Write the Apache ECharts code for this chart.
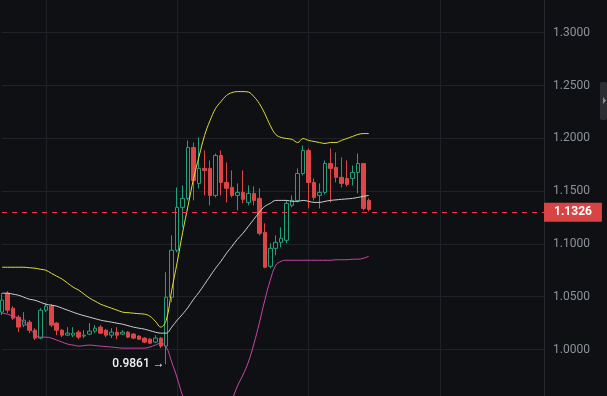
<!DOCTYPE html>
<html>
<head>
<meta charset="utf-8">
<script src="https://cdn.jsdelivr.net/npm/echarts@6/dist/echarts.min.js"></script>
<style>
html,body{margin:0;padding:0;background:#0f1013;}
#chart{width:607px;height:396px;}
</style>
</head>
<body>
<div id="chart"></div>
<script>
// ---- data ----
// category slots (candles occupy the first ones, the rest is empty future space)
const categories = [];
for (let i = 0; i < 100; i++) categories.push(String(i));

// candles: [open, close, low, high]
const candles = [
  [1.0354, 1.0467, 1.0325, 1.0533],
  [1.0533, 1.0372, 1.0344, 1.0552],
  [1.0391, 1.0297, 1.0278, 1.0410],
  [1.0306, 1.0212, 1.0164, 1.0325],
  [1.0231, 1.0278, 1.0212, 1.0354],
  [1.0259, 1.0183, 1.0155, 1.0278],
  [1.0183, 1.0108, 1.0089, 1.0202],
  [1.0108, 1.0372, 1.0098, 1.0391],
  [1.0372, 1.0410, 1.0354, 1.0439],
  [1.0410, 1.0231, 1.0212, 1.0429],
  [1.0250, 1.0183, 1.0136, 1.0259],
  [1.0183, 1.0136, 1.0117, 1.0193],
  [1.0136, 1.0155, 1.0127, 1.0212],
  [1.0136, 1.0155, 1.0117, 1.0212],
  [1.0164, 1.0117, 1.0098, 1.0183],
  [1.0127, 1.0136, 1.0108, 1.0183],
  [1.0146, 1.0174, 1.0136, 1.0250],
  [1.0174, 1.0202, 1.0155, 1.0231],
  [1.0212, 1.0155, 1.0146, 1.0231],
  [1.0183, 1.0136, 1.0117, 1.0193],
  [1.0136, 1.0164, 1.0108, 1.0202],
  [1.0164, 1.0136, 1.0098, 1.0212],
  [1.0146, 1.0164, 1.0136, 1.0183],
  [1.0164, 1.0117, 1.0108, 1.0174],
  [1.0146, 1.0108, 1.0098, 1.0155],
  [1.0127, 1.0098, 1.0089, 1.0136],
  [1.0108, 1.0070, 1.0060, 1.0117],
  [1.0098, 1.0060, 1.0051, 1.0108],
  [1.0070, 1.0108, 1.0060, 1.0136],
  [1.0108, 1.0032, 1.0013, 1.0117],
  [1.0032, 1.0495, 0.9861, 1.0732],
  [1.0495, 1.0940, 1.0448, 1.1081],
  [1.0940, 1.1346, 1.0921, 1.1535],
  [1.1346, 1.1431, 1.1157, 1.1554],
  [1.1431, 1.1913, 1.1412, 1.1979],
  [1.1913, 1.1601, 1.1412, 1.1960],
  [1.1573, 1.1715, 1.1526, 1.2008],
  [1.1715, 1.1696, 1.1459, 1.1885],
  [1.1715, 1.1459, 1.1365, 1.1790],
  [1.1459, 1.1837, 1.1440, 1.1856],
  [1.1837, 1.1582, 1.1459, 1.1885],
  [1.1582, 1.1526, 1.1393, 1.1771],
  [1.1535, 1.1459, 1.1440, 1.1696],
  [1.1459, 1.1488, 1.1318, 1.1573],
  [1.1488, 1.1422, 1.1384, 1.1696],
  [1.1393, 1.1478, 1.1365, 1.1554],
  [1.1478, 1.1412, 1.1365, 1.1544],
  [1.1431, 1.1100, 1.1081, 1.1526],
  [1.1110, 1.0779, 1.0769, 1.1195],
  [1.0788, 1.0958, 1.0769, 1.1006],
  [1.0958, 1.1015, 1.0892, 1.1081],
  [1.1015, 1.1053, 1.0968, 1.1157],
  [1.1034, 1.1384, 1.1006, 1.1412],
  [1.1365, 1.1412, 1.1346, 1.1459],
  [1.1412, 1.1667, 1.1393, 1.1715],
  [1.1667, 1.1885, 1.1648, 1.1932],
  [1.1885, 1.1582, 1.1336, 1.1904],
  [1.1582, 1.1440, 1.1412, 1.1620],
  [1.1459, 1.1488, 1.1336, 1.1573],
  [1.1488, 1.1762, 1.1469, 1.1790],
  [1.1762, 1.1715, 1.1393, 1.1904],
  [1.1724, 1.1630, 1.1582, 1.1866],
  [1.1630, 1.1573, 1.1535, 1.1819],
  [1.1620, 1.1563, 1.1544, 1.1790],
  [1.1620, 1.1677, 1.1554, 1.1743],
  [1.1677, 1.1762, 1.1478, 1.1856],
  [1.1762, 1.1336, 1.1318, 1.1762],
  [1.1412, 1.1326, 1.1308, 1.1431]
];

// Bollinger bands
const upperBand = [
  1.0779, 1.0779, 1.0779, 1.0779, 1.0779, 1.0774, 1.0770, 1.0760, 1.0751, 1.0722,
  1.0694, 1.0666, 1.0628, 1.0590, 1.0562, 1.0524, 1.0486, 1.0458, 1.0429, 1.0410,
  1.0391, 1.0373, 1.0354, 1.0349, 1.0344, 1.0339, 1.0335, 1.0316, 1.0268, 1.0212,
  1.0278, 1.0562, 1.0826, 1.1110, 1.1365, 1.1620, 1.1828, 1.2027, 1.2168, 1.2282,
  1.2348, 1.2405, 1.2433, 1.2442, 1.2442, 1.2438, 1.2395, 1.2329, 1.2234, 1.2121,
  1.2036, 1.2008, 1.1998, 1.1989, 1.1960, 1.1998, 1.1980, 1.1970, 1.1960, 1.1951,
  1.1960, 1.1960, 1.1980, 1.1998, 1.2017, 1.2036, 1.2045, 1.2045
];
const middleBand = [
  1.0533, 1.0533, 1.0524, 1.0514, 1.0495, 1.0476, 1.0467, 1.0448, 1.0429, 1.0420,
  1.0410, 1.0391, 1.0372, 1.0353, 1.0335, 1.0320, 1.0306, 1.0292, 1.0278, 1.0268,
  1.0259, 1.0249, 1.0240, 1.0226, 1.0212, 1.0202, 1.0193, 1.0179, 1.0164, 1.0155,
  1.0155, 1.0212, 1.0278, 1.0335, 1.0401, 1.0476, 1.0543, 1.0618, 1.0694, 1.0769,
  1.0836, 1.0911, 1.0977, 1.1044, 1.1100, 1.1166, 1.1233, 1.1299, 1.1355, 1.1384,
  1.1412, 1.1412, 1.1412, 1.1403, 1.1403, 1.1412, 1.1403, 1.1393, 1.1393, 1.1403,
  1.1412, 1.1417, 1.1422, 1.1426, 1.1431, 1.1440, 1.1450, 1.1459
];
const lowerBand = [
  1.0344, 1.0335, 1.0316, 1.0297, 1.0259, 1.0202, 1.0146, 1.0117, 1.0117, 1.0108,
  1.0089, 1.0070, 1.0051, 1.0042, 1.0032, 1.0037, 1.0042, 1.0037, 1.0032, 1.0027,
  1.0023, 1.0018, 1.0013, 1.0013, 1.0013, 1.0013, 1.0013, 1.0023, 1.0042, 1.0060,
  1.0023, 0.9881, 0.9730, 0.9560, 0.9437, 0.9333, 0.9257, 0.9210, 0.9219, 0.9257,
  0.9323, 0.9418, 0.9522, 0.9654, 0.9758, 0.9881, 1.0051, 1.0250, 1.0467, 1.0656,
  1.0798, 1.0836, 1.0845, 1.0845, 1.0845, 1.0845, 1.0845, 1.0845, 1.0845, 1.0845,
  1.0845, 1.0850, 1.0850, 1.0850, 1.0855, 1.0855, 1.0864, 1.0883
];

// ---- styling ----
const BG = '#0f1013';
const GRID = '#1f2126';
const GREEN = '#22a07a';
const RED = '#dc4646';
const LABEL = '#8d929b';
const PRICE_LINE = '#f0364c';

const lastClose = candles[candles.length - 1][1];
let lowIdx = 0;
candles.forEach((c, i) => { if (c[2] < candles[lowIdx][2]) lowIdx = i; });
const lowVal = candles[lowIdx][2];

const chart = echarts.init(document.getElementById('chart'), null, { renderer: 'canvas' });
chart.setOption({
  animation: false,
  backgroundColor: BG,
  textStyle: { fontFamily: 'Roboto, "Noto Sans", sans-serif' },
  grid: { left: 2, right: 63, top: -20.1, bottom: -6.3, containLabel: false, outerBoundsMode: 'none' },
  xAxis: {
    type: 'category',
    data: categories,
    boundaryGap: false,
    axisLine: { show: false },
    axisTick: { show: false },
    axisLabel: { show: false },
    splitLine: {
      show: true,
      interval: function (idx) { return idx % 24 === 8; },
      lineStyle: { color: GRID, width: 1 }
    }
  },
  yAxis: {
    type: 'value',
    position: 'right',
    min: 0.95,
    max: 1.35,
    interval: 0.05,
    axisLine: { show: true, lineStyle: { color: '#26292e' } },
    axisTick: { show: false },
    axisLabel: {
      color: LABEL,
      fontSize: 12,
      margin: 9,
      formatter: function (v) { return v.toFixed(4); }
    },
    splitLine: { show: true, lineStyle: { color: GRID, width: 1 } }
  },
  series: [
    {
      type: 'candlestick',
      data: candles,
      barWidth: 4,
      z: 2,
      itemStyle: {
        color: BG,
        color0: RED,
        borderColor: GREEN,
        borderColor0: RED,
        borderWidth: 1
      },
      markPoint: {
        silent: true,
        symbol: 'circle',
        symbolSize: 1,
        itemStyle: { color: 'rgba(0,0,0,0)' },
        data: [{ coord: [categories[lowIdx], lowVal] }],
        label: {
          show: true,
          position: 'left',
          distance: 1,
          color: '#f2f2f2',
          fontSize: 12,
          fontWeight: 500,
          formatter: function () { return lowVal.toFixed(4) + ' \u2192'; }
        }
      }
    },
    {
      type: 'line', data: upperBand, smooth: 0.4, symbol: 'none', z: 3,
      lineStyle: { color: '#e2dc3c', width: 1 }
    },
    {
      type: 'line', data: middleBand, smooth: 0.4, symbol: 'none', z: 3,
      lineStyle: { color: '#cfcfcf', width: 1 }
    },
    {
      type: 'line', data: lowerBand, smooth: 0.4, symbol: 'none', z: 3,
      lineStyle: { color: '#cc45a8', width: 1 },
      markLine: {
        silent: true,
        symbol: ['none', 'none'],
        data: [{ yAxis: lastClose }],
        lineStyle: { color: PRICE_LINE, type: [5, 5], width: 1 },
        label: {
          show: true,
          position: 'end',
          distance: 0,
          backgroundColor: '#d84343',
          color: '#ffffff',
          fontWeight: 'bold',
          fontSize: 12,
          padding: [4, 10, 3, 10],
          formatter: function () { return lastClose.toFixed(4); }
        }
      }
    }
  ],
  graphic: [
    { type: 'rect', shape: { x: 600, y: 82, width: 7, height: 38, r: 2 }, style: { fill: '#2b2d32' }, z: 100 },
    { type: 'polygon', shape: { points: [[603, 97], [606, 100.5], [603, 104]] }, style: { fill: '#8a8d93' }, z: 101 }
  ]
});
</script>
</body>
</html>
